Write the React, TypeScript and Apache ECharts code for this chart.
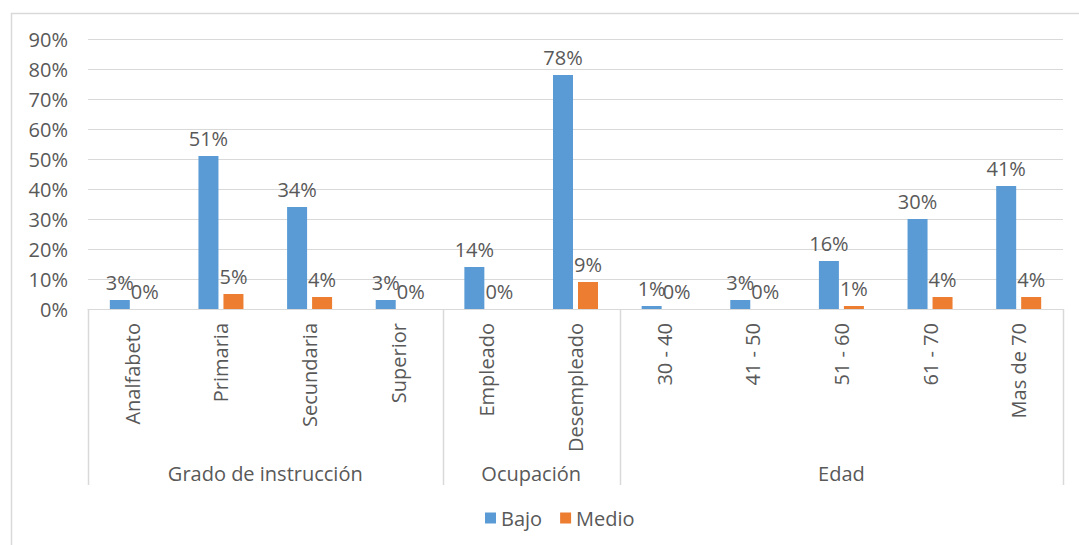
import React, { useEffect, useRef } from "react";
import * as echarts from "echarts";

const categories = [
  "Analfabeto", "Primaria", "Secundaria", "Superior",
  "Empleado", "Desempleado",
  "30 - 40", "41 - 50", "51 - 60", "61 - 70", "Mas de 70",
];
const bajo = [3, 51, 34, 3, 14, 78, 1, 3, 16, 30, 41];
const medio = [0, 5, 4, 0, 0, 9, 0, 0, 1, 4, 4];
const groupNames = ["Grado de instrucción", "Ocupación", "Edad"];
const groupSizes = [4, 2, 5];
const yTicks = [0, 10, 20, 30, 40, 50, 60, 70, 80, 90];

const FONT = "Open Sans";
const TXT = "#595959";
const LINE = "#d9d9d9";
const FS = 20;

export default function App() {
  const ref = useRef<HTMLDivElement>(null);
  useEffect(() => {
    document.body.style.margin = "0";
    const chart = echarts.init(ref.current!, null, { renderer: "svg" });
    const labelStyle = {
      show: true,
      position: "top",
      distance: 8,
      formatter: "{c}%",
      color: TXT,
      fontSize: FS,
      fontFamily: FONT,
    };
    chart.setOption({
      animation: false,
      textStyle: { fontFamily: FONT },
      grid: { left: 88, right: 16, top: 39, bottom: 236, containLabel: false },
      legend: {
        top: 503,
        left: 480,
        itemWidth: 11,
        itemHeight: 11,
        itemGap: 18,
        icon: "rect",
        textStyle: { color: TXT, fontSize: FS, fontFamily: FONT },
        data: ["Bajo", "Medio"],
      },
      xAxis: {
        type: "category",
        data: categories,
        axisLine: { lineStyle: { color: LINE, width: 1 } },
        axisTick: { show: false },
        axisLabel: {
          rotate: 90,
          interval: 0,
          margin: 14,
          color: TXT,
          fontSize: FS,
          fontFamily: FONT,
        },
      },
      yAxis: {
        type: "value",
        min: yTicks[0],
        max: yTicks[yTicks.length - 1],
        interval: 10,
        axisLine: { show: false },
        axisTick: { show: false },
        splitLine: { lineStyle: { color: LINE, width: 1 } },
        axisLabel: {
          formatter: "{value}%",
          margin: 20,
          color: TXT,
          fontSize: FS,
          fontFamily: FONT,
        },
      },
      series: [
        {
          name: "Bajo",
          type: "bar",
          data: bajo,
          barWidth: 20,
          barGap: "25%",
          itemStyle: { color: "#5B9BD5" },
          label: labelStyle,
        },
        {
          name: "Medio",
          type: "bar",
          data: medio,
          barWidth: 20,
          itemStyle: { color: "#ED7D31" },
          label: labelStyle,
        },
      ],
    });

    const c0 = chart.convertToPixel({ xAxisIndex: 0 }, 0) as number;
    const c1 = chart.convertToPixel({ xAxisIndex: 0 }, 1) as number;
    const half = (c1 - c0) / 2;
    const y0 = chart.convertToPixel({ yAxisIndex: 0 }, 0) as number;
    const yBottom = y0 + 176;
    const elements: any[] = [
      {
        type: "rect",
        shape: { x: 11.5, y: 13.5, width: 1200, height: 800 },
        style: { fill: "none", stroke: LINE, lineWidth: 1.5 },
        silent: true,
      },
    ];
    let idx = 0;
    const bounds: number[] = [c0 - half];
    groupNames.forEach((name, g) => {
      const startX = (chart.convertToPixel({ xAxisIndex: 0 }, idx) as number) - half;
      const endIdx = idx + groupSizes[g] - 1;
      const endX = (chart.convertToPixel({ xAxisIndex: 0 }, endIdx) as number) + half;
      bounds.push(endX);
      elements.push({
        type: "text",
        x: (startX + endX) / 2,
        y: yBottom - 12,
        style: {
          text: name,
          fill: TXT,
          fontSize: FS,
          fontFamily: FONT,
          align: "center",
          verticalAlign: "middle",
        },
      });
      idx += groupSizes[g];
    });
    bounds.forEach((bx) => {
      const x = Math.round(bx) + 0.5;
      elements.push({
        type: "line",
        shape: { x1: x, y1: y0, x2: x, y2: yBottom },
        style: { stroke: LINE, lineWidth: 1.5 },
        silent: true,
      });
    });
    chart.setOption({ graphic: { elements } });

    return () => chart.dispose();
  }, []);
  return <div ref={ref} style={{ width: 1079, height: 545 }} />;
}
